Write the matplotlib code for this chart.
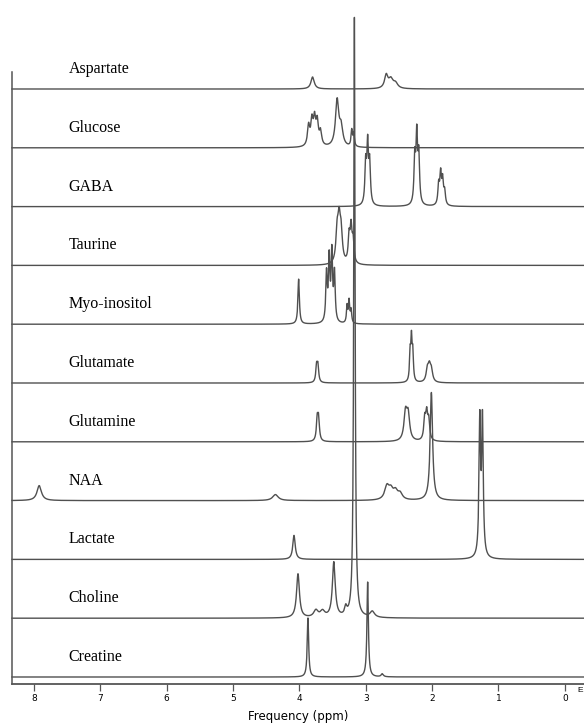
import numpy as np
import matplotlib
matplotlib.use("Agg")
import matplotlib.pyplot as plt

# Metabolite names, top to bottom
metabolites = ["Aspartate", "Glucose", "GABA", "Taurine", "Myo-inositol",
               "Glutamate", "Glutamine", "NAA", "Lactate", "Choline", "Creatine"]

# Peak lists: (position ppm, height, half-width ppm)
peaks_aspartate = [(3.80, 12, 0.03), (2.69, 13, 0.03), (2.62, 9, 0.04), (2.55, 5, 0.04)]
peaks_glucose = [(3.86, 20, 0.02), (3.81, 24, 0.02), (3.77, 25, 0.02), (3.73, 23, 0.02),
                 (3.68, 14, 0.02), (3.43, 46, 0.03), (3.37, 18, 0.03),
                 (3.21, 16, 0.012), (3.18, 13, 0.012)]
peaks_gaba = [(3.00, 40, 0.014), (2.97, 58, 0.014), (2.94, 40, 0.014),
              (2.26, 45, 0.014), (2.23, 66, 0.014), (2.20, 47, 0.014),
              (1.90, 20, 0.014), (1.87, 30, 0.014), (1.84, 24, 0.014), (1.81, 13, 0.014)]
peaks_taurine = [(3.43, 30, 0.022), (3.40, 38, 0.022), (3.37, 28, 0.022),
                 (3.25, 26, 0.016), (3.22, 34, 0.016), (3.19, 22, 0.016)]
peaks_myo = [(4.01, 45, 0.013), (3.59, 48, 0.013), (3.55, 62, 0.013), (3.51, 68, 0.013),
             (3.47, 48, 0.013), (3.28, 17, 0.011), (3.25, 22, 0.011), (3.22, 13, 0.011)]
peaks_glutamate = [(3.74, 16, 0.014), (3.72, 16, 0.014),
                   (2.33, 27, 0.011), (2.31, 40, 0.011), (2.29, 27, 0.011),
                   (2.07, 12, 0.022), (2.04, 14, 0.022), (2.01, 11, 0.022)]
peaks_glutamine = [(3.73, 21, 0.015), (3.71, 21, 0.015),
                   (2.40, 27, 0.027), (2.36, 25, 0.027),
                   (2.11, 21, 0.017), (2.08, 25, 0.017), (2.05, 19, 0.017)]
peaks_naa = [(7.92, 15, 0.04), (4.36, 6, 0.05),
             (2.68, 13, 0.04), (2.62, 9, 0.04), (2.55, 8, 0.04), (2.48, 6, 0.04),
             (2.01, 108, 0.022)]
peaks_lactate = [(4.08, 24, 0.022), (1.28, 135, 0.014), (1.24, 135, 0.014)]
peaks_choline = [(4.02, 44, 0.026), (3.75, 7, 0.04), (3.65, 6, 0.04), (3.48, 55, 0.026),
                 (3.30, 8, 0.02), (3.17, 600, 0.012), (2.90, 6, 0.04)]
peaks_creatine = [(3.87, 59, 0.013), (2.97, 95, 0.013), (2.75, 3, 0.02)]

peak_lists = [peaks_aspartate, peaks_glucose, peaks_gaba, peaks_taurine, peaks_myo,
              peaks_glutamate, peaks_glutamine, peaks_naa, peaks_lactate,
              peaks_choline, peaks_creatine]

tick_values = [8, 7, 6, 5, 4, 3, 2, 1, 0]

# ---- layout ----
W, H = 584, 724
fig = plt.figure(figsize=(W / 100, H / 100), dpi=100)
ax_left, ax_bottom_px = 12, 684
ax = fig.add_axes([ax_left / W, 1 - ax_bottom_px / H, 1 - ax_left / W, ax_bottom_px / H])
ax.set_xlim(8.33, -0.29)
ax.set_ylim(0, ax_bottom_px)

grid = np.linspace(-0.29, 8.33, 6000)
spacing = 58.8
base0 = 7
trace_color = "#505050"
n = len(metabolites)

for i, (name, plist) in enumerate(zip(metabolites, peak_lists)):
    offset = base0 + (n - 1 - i) * spacing
    y = np.zeros_like(grid)
    for pos, h, w in plist:
        y += h / (1 + ((grid - pos) / w) ** 2)
    ax.plot(grid, offset + y, color=trace_color, lw=1.0, clip_on=False, zorder=2)
    ax.text(7.48, offset + 20, name, ha="left", va="center",
            fontsize=11.5, family="Liberation Serif", color="#000000")

for s in ["top", "right"]:
    ax.spines[s].set_visible(False)
ax.spines["left"].set_bounds(0, 612)
ax.spines["left"].set_color("#555555")
ax.spines["bottom"].set_color("#555555")
ax.spines["left"].set_linewidth(1.1)
ax.spines["bottom"].set_linewidth(1.3)

ax.set_yticks([])
ax.set_xticks(tick_values)
ax.set_xticklabels([str(t) for t in tick_values], family="Liberation Sans Narrow", fontsize=6.5)
ax.tick_params(axis="x", direction="out", length=5, width=0.9, color="#555555", pad=2)
ax.set_xlabel("Frequency (ppm)", family="Liberation Sans Narrow", fontsize=8.5, labelpad=5)

fig.text(0.998, 1 - 690 / H, "E", fontsize=6, ha="right", va="center", family="Liberation Sans")

fig.savefig("out.png", dpi=100)
